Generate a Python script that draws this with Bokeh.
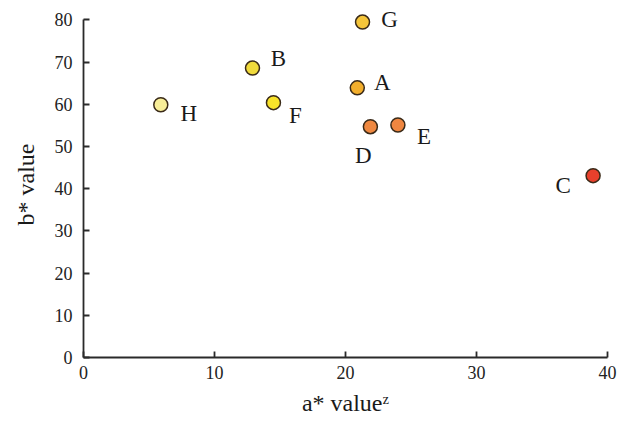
from bokeh.plotting import figure
from bokeh.models import ColumnDataSource, Range1d, FixedTicker
from bokeh.core.properties import value
from bokeh.embed import file_html
from bokeh.resources import INLINE

names = ["A", "B", "C", "D", "E", "F", "G", "H"]
a_vals = [20.9, 12.9, 38.9, 21.9, 24.0, 14.5, 21.3, 5.9]
b_vals = [63.9, 68.6, 43.1, 54.7, 55.1, 60.4, 79.5, 59.9]
colors = ["#F2AE2C", "#F0DA3C", "#E8402C", "#EF8840", "#EF8640", "#F8E22A", "#F5C53A", "#F8EE98"]
x_ticks = [0, 10, 20, 30, 40]
y_ticks = [0, 10, 20, 30, 40, 50, 60, 70, 80]

# label offsets in screen pixels (dx right, dy down)
lab_dx = [25, 26, -30, -7, 26, 22, 27, 28]
lab_dy = [-5, -10, 10, 29, 11, 13, -3, 9]

src = ColumnDataSource(dict(x=a_vals, y=b_vals, name=names, color=colors,
                            dx=lab_dx, dy=lab_dy))

p = figure(output_backend="svg", toolbar_location=None,
           frame_width=524, frame_height=346,
           x_range=Range1d(0, 40), y_range=Range1d(0, 82),
           min_border_left=83, min_border_right=12,
           min_border_top=11, min_border_bottom=56)
p.outline_line_color = None
p.grid.visible = False
p.background_fill_color = "white"

serif = "Liberation Serif"
for ax, ticks in ((p.xaxis, x_ticks), (p.yaxis, y_ticks)):
    ax.ticker = FixedTicker(ticks=ticks)
    ax.minor_tick_line_color = None
    ax.major_tick_in = 6
    ax.major_tick_out = 0
    ax.axis_line_color = "#2a2a2a"
    ax.axis_line_width = 1.8
    ax.major_tick_line_color = "#2a2a2a"
    ax.major_tick_line_width = 1.8
    ax.major_label_text_font = serif
    ax.major_label_text_font_size = "18px"
    ax.major_label_text_color = "#222222"
    ax.axis_label_text_font = serif
    ax.axis_label_text_font_size = "24px"
    ax.axis_label_text_font_style = "normal"
    ax.axis_label_text_color = "#1a1a1a"

p.xaxis.bounds = (0, 40)
p.yaxis.bounds = (0, 80)
p.xaxis.axis_label = "a* value\u1dbb"
p.yaxis.axis_label = "b* value"
p.xaxis.major_label_standoff = 8
p.yaxis.major_label_standoff = 11
p.xaxis.axis_label_standoff = 8
p.yaxis.axis_label_standoff = 13

p.scatter("x", "y", source=src, size=14, fill_color="color",
          line_color="#3a2a18", line_width=1.5)
p.text("x", "y", text="name", source=src, x_offset="dx", y_offset="dy",
       text_align="center", text_baseline="middle",
       text_font=value(serif), text_font_size="23px", text_color="#1a1a1a")

open("out.html", "w").write(file_html(p, INLINE))
